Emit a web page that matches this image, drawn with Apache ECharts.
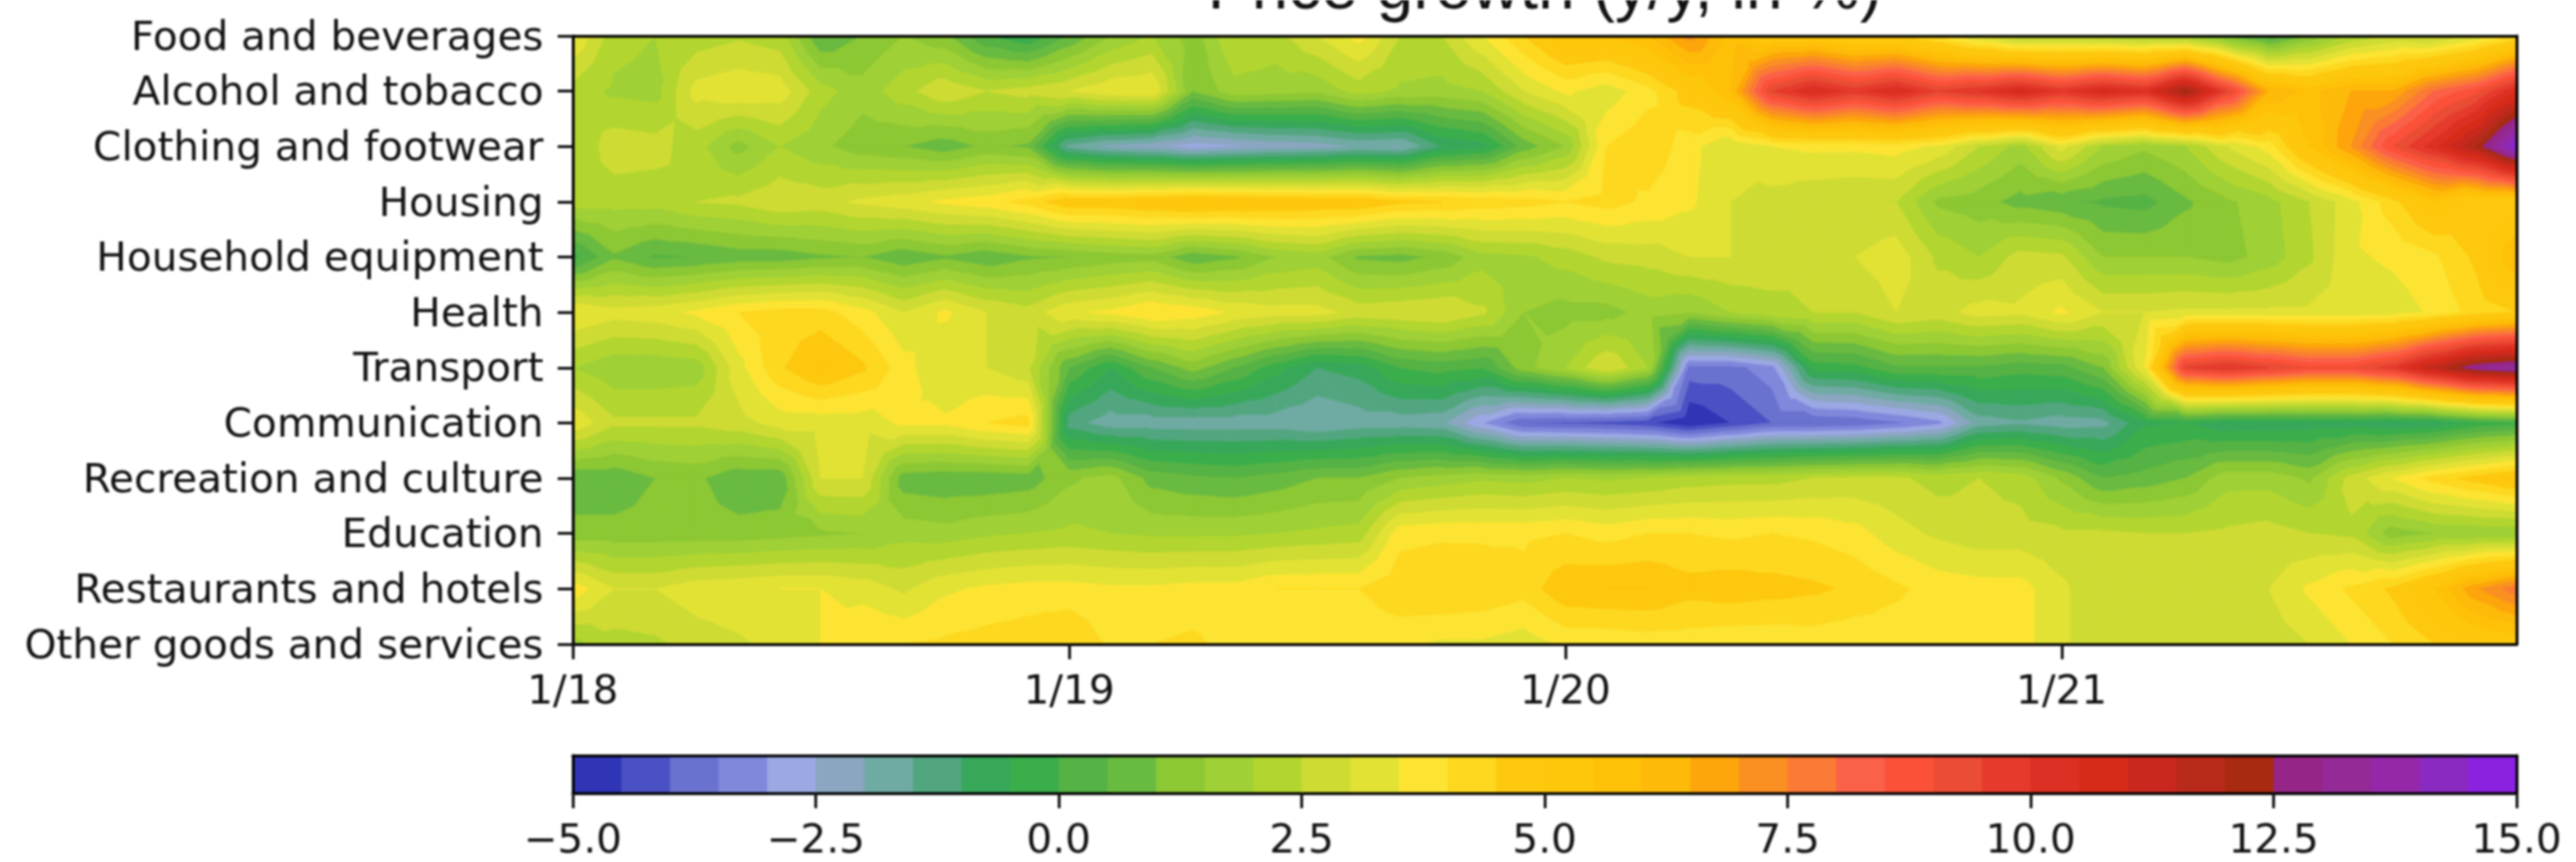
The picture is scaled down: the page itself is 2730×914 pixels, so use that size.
<!DOCTYPE html>
<html><head><meta charset="utf-8">
<style>html,body{margin:0;padding:0;background:#fff}#chart{width:2730px;height:914px}#chart canvas{filter:blur(1.1px)}</style>
<script src="https://cdn.jsdelivr.net/npm/echarts@6/dist/echarts.min.js"></script>
</head><body><div id="chart"></div>
<script>
const chartTitle = 'Price growth (y/y, in %)';
const categories = ['Food and beverages','Alcohol and tobacco','Clothing and footwear','Housing','Household equipment','Health','Transport','Communication','Recreation and culture','Education','Restaurants and hotels','Other goods and services'];
const monthTicks = [0,12,24,36];
const monthTickLabels = ['1/18','1/19','1/20','1/21'];
// one value per month, Jan 2018 .. Dec 2021
const foodBeverages = [3.5,2.2,2,2.2,2.4,2.2,0.5,1,1.5,1.1,0,-0.5,0.5,1.5,2,1.2,2.5,2.3,3,3.7,2.5,2.5,3.5,4.5,5.5,5.5,6,7.2,5.8,5,5,4.5,4.5,3.8,2.8,2,2.1,2,1.8,1.7,0.8,0,1,2,2.5,2.3,3,4];
const alcoholTobacco = [2.3,1.9,1.8,3.2,3.4,3.3,2.2,1.7,2.3,2.9,2.5,2.7,3,3.4,3.5,1,1.8,1.7,1.6,2.2,1.9,1.8,2,3,3.6,3.2,3.8,4.8,6,9.5,10.5,9.8,10.5,9.5,10,10.7,9.9,10.7,10.2,12.4,9.5,6.5,5.8,6.5,6.5,8,8.8,10.5];
const clothingFootwear = [2,2.8,2.7,2.2,1.3,2,1.6,1.2,1,0.7,1.1,0.9,-1.7,-2.2,-2.4,-2.8,-2.6,-2.4,-2.3,-2,-2.1,-1,-0.7,0.7,1.5,4,4.4,3.7,3,3.5,3.6,3.6,3.7,3.4,2.5,1.8,3.2,2,1.6,2,3,3.7,5.5,7,9,10.3,12,14.8];
const housing = [2.2,2.2,2.2,2.5,2.6,2.9,2.8,3.1,3.3,3.6,3.8,4.2,4.9,4.9,5.1,5.3,5.2,5.1,5,5,4.6,4.5,4.3,4.2,4,4.2,3.9,3.6,3,2.8,2.6,2.5,2.5,1.4,1.2,0.8,0.6,0.4,0.3,0.9,1.4,1.8,2.5,3.3,4.3,5.4,4.6,4.8];
const householdEquipment = [-0.2,0.9,0.4,0.5,0.7,0.7,0.9,1,0.6,0.9,0.6,0.9,1,1.2,1.3,0.6,0.9,1.5,1.7,0.9,0.8,1.1,1.8,1.9,2.2,2.6,2.7,3,3,2.8,2.6,3,3.3,2.4,2,2.7,2.6,1.5,1.5,1.5,1.3,1.7,2.4,3.4,3.6,3.9,4.6,6];
const health = [3.5,3.2,3.3,3.6,4,4.2,4.2,3.7,3,3.6,3,2.7,3.4,3.6,4,3.8,3.4,3.2,3.2,2.8,2.9,3,2.6,1.5,1.3,1.3,1.7,1.5,2,2.3,2.5,2.5,3,2.8,3.2,3.1,3.6,3,3,3.1,3.1,3.1,3.1,3.1,3.2,3.6,4.2,4.5];
const transport = [2,1.6,1.6,1.7,3.3,4.4,5.1,4.6,3.7,3,3,2.6,0.5,-0.5,0.5,1.2,0.5,-0.3,-1,-0.8,0,0.2,0,1.3,2,3,2,-3.7,-3.7,-3.2,-0.3,-0.2,0.4,0.4,0.4,0.2,0.3,1,3.5,9.5,10,9.5,9,9,9.8,11.5,13,13.5];
const communication = [3.4,2.6,2.6,2.6,2.8,3.2,3.2,3.2,3.6,3.6,4,4.2,-1.3,-1.8,-1.8,-1.8,-1.8,-1.8,-2,-1.8,-1.8,-1.9,-3,-4,-4.1,-4.2,-4.4,-5,-4.5,-4,-4,-3.9,-3.6,-3.2,-1.8,-1.6,-1.8,-1.7,-0.6,-0.5,-0.9,-0.9,-0.8,-0.8,-1,-0.9,-0.4,-0.2];
const recreationCulture = [0.6,0.6,1,1.1,0.6,0.6,3,3,0.7,0.6,0.6,0.7,1.4,1.7,0.8,0.6,0.5,0.7,1,1,1.5,1.7,1.9,1.8,2,1.9,2,2.2,2.3,2.3,2.5,2.6,2.6,2.3,2.5,2.3,1.4,0.5,0.7,1,1.8,1.8,1.4,2.7,3.5,4.2,4.7,5.2];
const education = [1.2,1.2,1.2,1.2,1.2,1.3,1.4,1.5,1.8,1.7,1.9,2,2.1,2,1.9,1.9,1.9,2,2.1,2.2,3.8,3.9,3.9,3.9,4,3.8,4,4,3.9,4,3.9,3.7,3.2,2.9,2.7,2.7,2.6,2.6,2.5,2.5,2.6,2.7,2.5,2.4,1.2,1.5,1.5,1.5];
const restaurantsHotels = [3.8,3,3,3.3,3.4,3.5,3.5,3.3,2.9,3.4,3.6,3.7,3.7,3.6,3.6,3.7,3.7,4,4,4,4.4,4.5,4.4,4.2,4.9,5,5,4.7,4.8,4.7,4.6,4.4,4.1,3.8,3.7,3.7,3.1,2.6,2.6,2.6,2.6,3,3.6,4.1,4.6,5.5,6.9,7.8];
const otherGoodsServices = [1.8,2.3,2.4,2.7,2.9,3.2,3.5,4,4,4.1,4.2,4.3,4.5,3.9,4,4.1,3.8,3.6,3.6,3.6,3.6,3.4,3.4,3.2,3.6,3.6,3.7,3.7,3.6,3.6,3.7,3.6,3.7,3.5,3.6,3.7,3.1,2.6,2.6,2.7,2.8,2.7,3,3.5,4,4.5,4.8,5];
const rows = [foodBeverages,alcoholTobacco,clothingFootwear,housing,householdEquipment,health,transport,communication,recreationCulture,education,restaurantsHotels,otherGoodsServices];
// colour scale: 40 bands of 0.5 from -5 to 15
const levelStart = -5, levelStep = 0.5;
const levelColors = ['#2f35b5','#4a51c4','#6a72cf','#8088dc','#9ba8e3','#8aa6c0','#6faaa3','#52a67f','#37a85a','#3aae4b','#55b244','#69ba40','#8cc734','#9fd035','#b2d62f','#cedb33','#e2e234','#fde432','#fdd81f','#fdc80e','#fdc70c','#ffc107','#fdba08','#fda50a','#fa8f22','#fb7a35','#fb6048','#fb5138','#ea4c34','#e53a2c','#dd3024','#d62b18','#c9281e','#b82a1a','#a82a10','#952587','#932a96','#9428a8','#8a2ac0','#8a22e0'];

function clip(poly, lo, keepAbove){
  const out=[];
  for(let k=0;k<poly.length;k++){
    const a=poly[k], b=poly[(k+1)%poly.length];
    const ia=keepAbove? a[2]>=lo : a[2]<=lo;
    const ib=keepAbove? b[2]>=lo : b[2]<=lo;
    if(ia) out.push(a);
    if(ia!==ib){
      const t=(lo-a[2])/(b[2]-a[2]);
      out.push([a[0]+t*(b[0]-a[0]),a[1]+t*(b[1]-a[1]),lo]);
    }
  }
  return out;
}
function renderCell(params, api){
  const i=api.value(0), j=api.value(1);
  const A=[i,j,rows[j][i]],B=[i+1,j,rows[j][i+1]],C=[i+1,j+1,rows[j+1][i+1]],D=[i,j+1,rows[j+1][i]];
  const M=[i+.5,j+.5,(A[2]+B[2]+C[2]+D[2])/4];
  const children=[];
  [[A,B],[B,C],[C,D],[D,A]].forEach(function(e){
    const tri=[e[0],e[1],M];
    const vs=tri.map(function(p){return p[2];});
    const vmin=Math.min.apply(null,vs), vmax=Math.max.apply(null,vs);
    levelColors.forEach(function(col,n){
      const lo=levelStart+n*levelStep, hi=lo+levelStep;
      if(vmax<lo||vmin>hi) return;
      let p=clip(tri,lo,true);
      if(p.length) p=clip(p,hi,false);
      if(p.length<3) return;
      children.push({type:'polygon',silent:true,
        shape:{points:p.map(function(q){return api.coord([q[0],q[1]]);})},
        style:{fill:col,stroke:col,lineWidth:1}});
    });
  });
  return {type:'group',children:children};
}
const cells=[];
for(let j=0;j<rows.length-1;j++) for(let i=0;i<rows[0].length-1;i++) cells.push([i,j]);
const bands=levelColors.map(function(c,n){return [levelStart+n*levelStep,levelStart+(n+1)*levelStep];});

const FONT='DejaVu Sans', LBL=43, INK='#111';
const axisLine={show:true,onZero:false,lineStyle:{color:'#000',width:3}};
const tick={show:true,length:16,lineStyle:{color:'#111',width:3}};
const chart=echarts.init(document.getElementById('chart'),null,{renderer:'canvas'});
chart.setOption({
  animation:false,backgroundColor:'#fff',
  title:{text:chartTitle,left:1632,top:-50,textAlign:'center',textStyle:{fontFamily:'Liberation Sans',fontSize:70,fontWeight:'normal',color:'#111'}},
  grid:[{left:607,top:38,width:2060,height:645,outerBoundsMode:'none'},{left:607,top:801,width:2060,height:40,outerBoundsMode:'none'}],
  xAxis:[
    {type:'value',gridIndex:0,min:0,max:47,z:5,splitLine:{show:false},axisLine:axisLine,
     axisTick:Object.assign({customValues:monthTicks},tick),
     axisLabel:{customValues:monthTicks,margin:30,fontFamily:FONT,fontSize:LBL,color:INK,formatter:function(v){return monthTickLabels[monthTicks.indexOf(v)];}}},
    {type:'value',gridIndex:0,min:0,max:47,z:5,position:'top',splitLine:{show:false},axisLine:axisLine,axisTick:{show:false},axisLabel:{show:false}},
    {type:'value',gridIndex:1,min:-5,max:15,interval:2.5,z:5,splitLine:{show:false},axisLine:axisLine,axisTick:tick,
     axisLabel:{margin:30,fontFamily:FONT,fontSize:LBL,color:INK,formatter:function(v){return (v<0?'\u2212':'')+Math.abs(v).toFixed(1);}}},
    {type:'value',gridIndex:1,min:-5,max:15,z:5,position:'top',splitLine:{show:false},axisLine:axisLine,axisTick:{show:false},axisLabel:{show:false}}
  ],
  yAxis:[
    {type:'value',gridIndex:0,min:0,max:11,inverse:true,z:5,splitLine:{show:false},axisLine:axisLine,
     axisTick:Object.assign({customValues:categories.map(function(c,k){return k;})},tick),
     axisLabel:{customValues:categories.map(function(c,k){return k;}),margin:31,verticalAlign:'top',lineHeight:7,fontFamily:FONT,fontSize:LBL,color:INK,formatter:function(v){return categories[v];}}},
    {type:'value',gridIndex:0,min:0,max:11,inverse:true,z:5,position:'right',splitLine:{show:false},axisLine:axisLine,axisTick:{show:false},axisLabel:{show:false}},
    {type:'value',gridIndex:1,min:0,max:1,z:5,splitLine:{show:false},axisLine:axisLine,axisTick:{show:false},axisLabel:{show:false}},
    {type:'value',gridIndex:1,min:0,max:1,z:5,position:'right',splitLine:{show:false},axisLine:axisLine,axisTick:{show:false},axisLabel:{show:false}}
  ],
  series:[
    {type:'custom',name:'Price growth',xAxisIndex:0,yAxisIndex:0,data:cells,encode:{x:0,y:1},clip:true,silent:true,renderItem:renderCell},
    {type:'custom',name:'Colour bar',xAxisIndex:2,yAxisIndex:2,data:bands,encode:{x:[0,1]},silent:true,
     renderItem:function(params,api){
       const p0=api.coord([api.value(0),0]),p1=api.coord([api.value(1),1]);
       return {type:'rect',shape:{x:p0[0],y:p1[1],width:p1[0]-p0[0]+0.5,height:p0[1]-p1[1]},style:{fill:levelColors[params.dataIndex]}};
     }}
  ]
});
</script></body></html>
